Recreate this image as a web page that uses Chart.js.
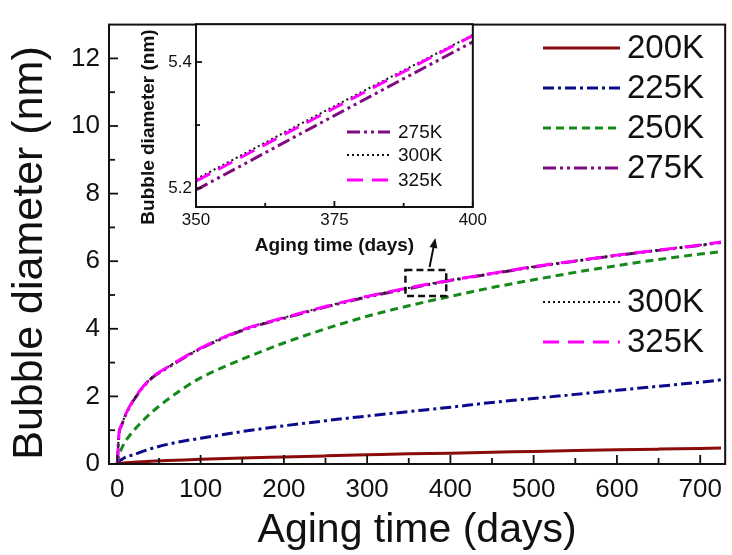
<!DOCTYPE html>
<html>
<head>
<meta charset="utf-8">
<script src="https://cdn.jsdelivr.net/npm/chart.js@4.4.0/dist/chart.umd.min.js"></script>
<style>
  html, body { margin: 0; padding: 0; background: #fff; }
  #wrap { position: relative; width: 732px; height: 555px; }
  #main { position: absolute; left: 0; top: 0; }
  #inset { position: absolute; left: 130px; top: 10px; }
</style>
</head>
<body>
<div id="wrap">
  <canvas id="main" width="732" height="555"></canvas>
  <canvas id="inset" width="360" height="250"></canvas>
</div>
<script>
// aging time (days) and bubble diameter (nm)
const days = [0, 2, 5, 10, 20, 40, 60, 80, 100, 150, 200, 250, 300, 350, 400, 450, 500, 550, 600, 650, 700, 725];
const d200 = [0, 0.01, 0.02, 0.04, 0.05, 0.08, 0.10, 0.12, 0.14, 0.18, 0.21, 0.24, 0.27, 0.30, 0.32, 0.35, 0.37, 0.40, 0.42, 0.44, 0.46, 0.47];
const d225 = [0, 0.08, 0.13, 0.20, 0.28, 0.45, 0.58, 0.68, 0.76, 0.96, 1.13, 1.28, 1.42, 1.55, 1.68, 1.82, 1.94, 2.06, 2.18, 2.30, 2.42, 2.49];
const d250 = [0, 0.25, 0.45, 0.68, 1.00, 1.50, 1.90, 2.25, 2.55, 3.10, 3.58, 4.00, 4.37, 4.68, 4.96, 5.22, 5.45, 5.67, 5.87, 6.05, 6.21, 6.28];
const d275 = [0, 0.88, 1.13, 1.45, 1.90, 2.51, 2.84, 3.14, 3.41, 3.95, 4.31, 4.64, 4.94, 5.19, 5.43, 5.63, 5.83, 6.00, 6.17, 6.32, 6.47, 6.55];
const d300 = [0, 0.90, 1.15, 1.47, 1.92, 2.53, 2.86, 3.16, 3.43, 3.97, 4.33, 4.66, 4.96, 5.21, 5.44, 5.64, 5.84, 6.01, 6.18, 6.33, 6.48, 6.56];
const d325 = [0, 0.90, 1.15, 1.47, 1.92, 2.53, 2.86, 3.16, 3.43, 3.97, 4.33, 4.66, 4.96, 5.21, 5.44, 5.64, 5.84, 6.01, 6.18, 6.33, 6.48, 6.57];

// inset (zoom 350-400 days)
const insetDays = [350, 375, 400];
const i275 = [5.197, 5.315, 5.432];
const i300 = [5.214, 5.330, 5.443];
const i325 = [5.211, 5.327, 5.442];

const xTicks = [0, 100, 200, 300, 400, 500, 600, 700];
const xMinor = [50, 150, 250, 350, 450, 550, 650];
const yTicks = [0, 2, 4, 6, 8, 10, 12];
const yMinor = [1, 3, 5, 7, 9, 11];
const insetXTicks = [350, 375, 400];
const insetXMinor = [362.5, 387.5];
const insetYTicks = [5.2, 5.4];
const insetYMinor = [5.3];

const FONT = '"Liberation Sans", Arial, sans-serif';
const INK = '#111';

const styles = {
    '200K': { color: '#8b0a0a', dash: [], width: 3 },
    '225K': { color: '#0a0a8c', dash: [11, 4, 3, 4], width: 3 },
    '250K': { color: '#15891a', dash: [8, 5], width: 3 },
    '275K': { color: '#800a80', dash: [13, 4, 3, 4, 3, 4], width: 3 },
    '300K': { color: '#111111', dash: [2, 3], width: 2 },
    '325K': { color: '#ff00ff', dash: [16, 9], width: 3 }
};

function pts(xs, ys) {
    return xs.map((x, i) => ({ x: x, y: ys[i] }));
}

function ds(label, xs, ys, order) {
    const s = styles[label];
    return {
        label: label,
        data: pts(xs, ys),
        borderColor: s.color,
        borderDash: s.dash,
        borderWidth: s.width,
        pointRadius: 0,
        fill: false,
        cubicInterpolationMode: 'monotone',
        order: order
    };
}

// frame, inward ticks, legend, y title and notes
function decor(cfg) {
    return {
        id: 'decor',
        beforeDraw(chart) {
            const a = chart.chartArea, c = chart.ctx;
            if (cfg.fillArea) {
                c.save();
                c.fillStyle = '#fff';
                c.fillRect(a.left, a.top, a.right - a.left, a.bottom - a.top);
                c.restore();
            }
        },
        afterDraw(chart) {
            const a = chart.chartArea, c = chart.ctx;
            const xs = chart.scales.x, ys = chart.scales.y;
            c.save();
            c.strokeStyle = INK;
            c.lineWidth = cfg.frame;
            c.setLineDash([]);
            c.strokeRect(a.left, a.top, a.right - a.left, a.bottom - a.top);

            c.lineWidth = cfg.frame * 0.9;
            const tick = (v, len, horiz) => {
                c.beginPath();
                if (horiz) {
                    const p = xs.getPixelForValue(v);
                    c.moveTo(p, a.bottom); c.lineTo(p, a.bottom - len);
                } else {
                    const p = ys.getPixelForValue(v);
                    c.moveTo(a.left, p); c.lineTo(a.left + len, p);
                }
                c.stroke();
            };
            cfg.xMajor.forEach(v => tick(v, cfg.major, true));
            cfg.xMinor.forEach(v => tick(v, cfg.minor, true));
            cfg.yMajor.forEach(v => tick(v, cfg.major, false));
            cfg.yMinor.forEach(v => tick(v, cfg.minor, false));

            // rotated y title
            const t = cfg.yTitle;
            c.save();
            c.translate(t.x, t.y);
            c.rotate(-Math.PI / 2);
            c.fillStyle = INK;
            c.font = (t.bold ? 'bold ' : '') + t.size + 'px ' + FONT;
            c.textAlign = 'center';
            c.textBaseline = 'middle';
            c.fillText(t.text, 0, 0);
            c.restore();

            // legend
            c.textBaseline = 'middle';
            c.textAlign = 'left';
            c.font = cfg.legendFont + 'px ' + FONT;
            c.fillStyle = INK;
            cfg.legend.forEach(row => {
                const s = styles[row.label];
                c.strokeStyle = s.color;
                c.lineWidth = s.width;
                c.setLineDash(s.dash);
                c.beginPath();
                c.moveTo(row.x0, row.y);
                c.lineTo(row.x1, row.y);
                c.stroke();
                c.setLineDash([]);
                c.fillText(row.label, row.x1 + cfg.gap, row.y + 1);
            });

            if (cfg.box) {
                const b = cfg.box;
                c.strokeStyle = INK;
                c.lineWidth = 2.5;
                c.setLineDash([7, 4]);
                const l = xs.getPixelForValue(b.x[0]), r = xs.getPixelForValue(b.x[1]);
                const tp = ys.getPixelForValue(b.y[1]), btm = ys.getPixelForValue(b.y[0]);
                c.strokeRect(l, tp, r - l, btm - tp);
                c.setLineDash([]);
                // arrow towards inset
                const x0 = xs.getPixelForValue(b.arrow[0]), y0 = ys.getPixelForValue(b.arrow[1]);
                const x1 = xs.getPixelForValue(b.arrow[2]), y1 = ys.getPixelForValue(b.arrow[3]);
                const ang = Math.atan2(y1 - y0, x1 - x0);
                c.lineWidth = 2;
                c.beginPath();
                c.moveTo(x0, y0);
                c.lineTo(x1 - 6 * Math.cos(ang), y1 - 6 * Math.sin(ang));
                c.stroke();
                c.fillStyle = INK;
                c.beginPath();
                c.moveTo(x1, y1);
                c.lineTo(x1 - 10 * Math.cos(ang) + 4 * Math.sin(ang), y1 - 10 * Math.sin(ang) - 4 * Math.cos(ang));
                c.lineTo(x1 - 10 * Math.cos(ang) - 4 * Math.sin(ang), y1 - 10 * Math.sin(ang) + 4 * Math.cos(ang));
                c.closePath();
                c.fill();
            }
            c.restore();
        }
    };
}

function axis(o) {
    return {
        type: 'linear',
        min: o.min,
        max: o.max,
        grid: { display: false, drawTicks: false, tickLength: 0 },
        border: { display: false },
        ticks: {
            font: { family: FONT, size: o.tickSize },
            color: INK,
            padding: o.pad,
            maxRotation: 0,
            autoSkip: false,
            callback: v => o.fmt ? o.fmt(v) : v
        },
        afterBuildTicks: s => { s.ticks = o.ticks.map(v => ({ value: v })); },
        afterFit: s => {
            if (o.height) s.height = o.height;
            if (o.width) s.width = o.width;
        },
        title: {
            display: !!o.title,
            text: o.title || '',
            color: INK,
            font: { family: FONT, size: o.titleSize, weight: o.bold ? 'bold' : 'normal' },
            padding: o.titlePad
        }
    };
}

// main chart
new Chart(document.getElementById('main'), {
    type: 'line',
    data: {
        datasets: [
            ds('200K', days, d200, 6),
            ds('225K', days, d225, 5),
            ds('250K', days, d250, 4),
            ds('275K', days, d275, 3),
            ds('300K', days, d300, 2),
            ds('325K', days, d325, 1)
        ]
    },
    options: {
        responsive: false,
        animation: false,
        layout: { padding: { top: 8, right: 3, left: 0, bottom: 0 } },
        plugins: { legend: { display: false }, tooltip: { enabled: false } },
        scales: {
            x: axis({ min: -10, max: 730, ticks: xTicks, tickSize: 26, pad: 10, height: 91,
                title: 'Aging time (days)', titleSize: 41, titlePad: { top: 0, bottom: 0 } }),
            y: axis({ min: 0, max: 13, ticks: yTicks, tickSize: 26, pad: 9, width: 109 })
        }
    },
    plugins: [decor({
        frame: 2, major: 9, minor: 6,
        xMajor: xTicks, xMinor: xMinor, yMajor: yTicks, yMinor: yMinor,
        yTitle: { text: 'Bubble diameter (nm)', x: 30, y: 253, size: 43 },
        legendFont: 33, gap: 7,
        legend: [
            { label: '200K', x0: 543, x1: 620, y: 48 },
            { label: '225K', x0: 543, x1: 620, y: 88 },
            { label: '250K', x0: 543, x1: 620, y: 128 },
            { label: '275K', x0: 543, x1: 620, y: 168 },
            { label: '300K', x0: 543, x1: 620, y: 302 },
            { label: '325K', x0: 543, x1: 620, y: 342 }
        ],
        box: { x: [346, 395], y: [4.97, 5.74], arrow: [375, 5.83, 382, 6.69] }
    })]
});

// inset chart
new Chart(document.getElementById('inset'), {
    type: 'line',
    data: {
        datasets: [
            ds('275K', insetDays, i275, 3),
            ds('300K', insetDays, i300, 2),
            ds('325K', insetDays, i325, 1)
        ]
    },
    options: {
        responsive: false,
        animation: false,
        layout: { padding: { top: 11, right: 14, left: 0, bottom: 0 } },
        plugins: { legend: { display: false }, tooltip: { enabled: false } },
        scales: {
            x: axis({ min: 350, max: 400, ticks: insetXTicks, tickSize: 17, pad: 3, height: 53,
                title: 'Aging time (days)', titleSize: 19, bold: true, titlePad: { top: 0, bottom: 3 } }),
            y: axis({ min: 5.17, max: 5.46, ticks: insetYTicks, tickSize: 17, pad: 4, width: 66,
                fmt: v => v.toFixed(1) })
        }
    },
    plugins: [decor({
        fillArea: true, frame: 2, major: 6, minor: 4,
        xMajor: insetXTicks, xMinor: insetXMinor, yMajor: insetYTicks, yMinor: insetYMinor,
        yTitle: { text: 'Bubble diameter (nm)', x: 19, y: 117, size: 19, bold: true },
        legendFont: 19, gap: 8,
        legend: [
            { label: '275K', x0: 217, x1: 260, y: 122 },
            { label: '300K', x0: 217, x1: 260, y: 145 },
            { label: '325K', x0: 217, x1: 260, y: 170 }
        ]
    })]
});
</script>
</body>
</html>
